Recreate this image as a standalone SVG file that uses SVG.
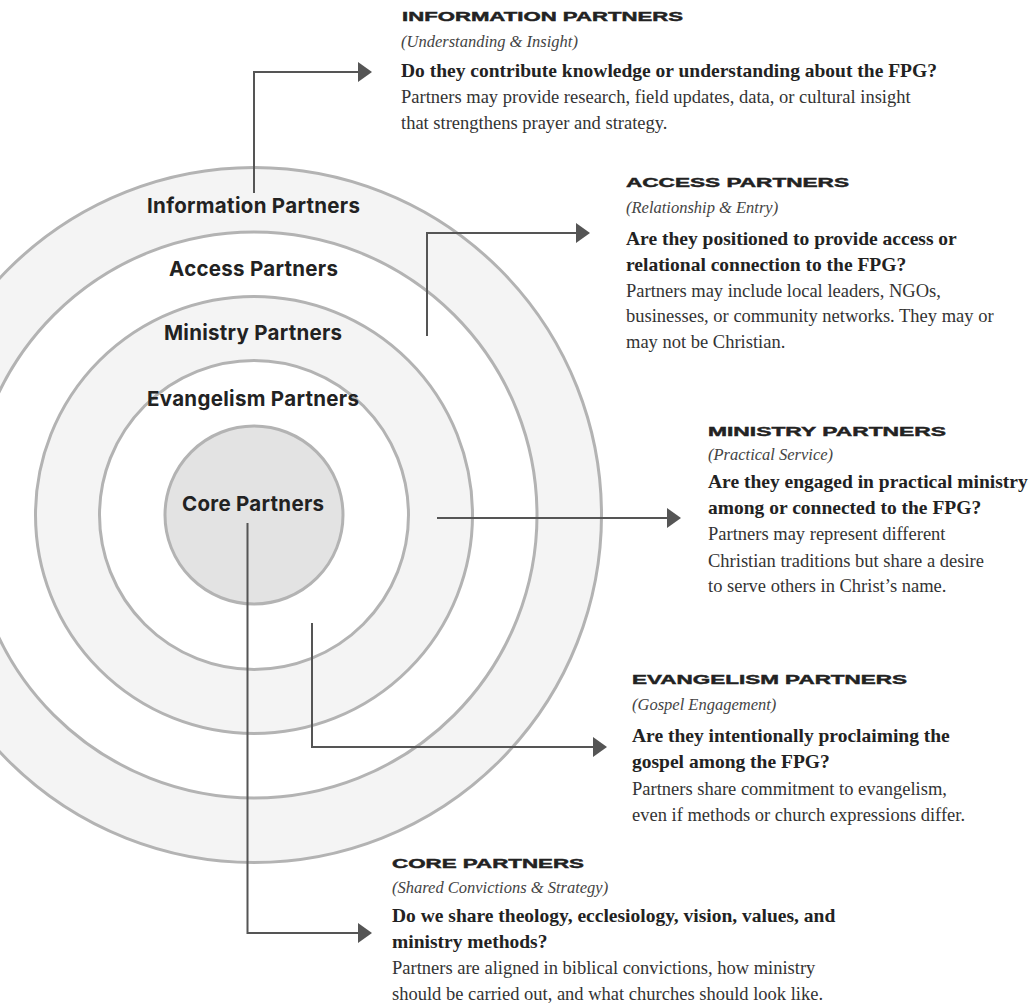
<svg xmlns="http://www.w3.org/2000/svg" width="1033" height="1007" viewBox="0 0 1033 1007">
  <style>
    .ring { stroke:#b3b3b3; stroke-width:3; }
    .lbl { font-family:Inter, "Liberation Sans", sans-serif; font-weight:700; font-size:20.5px; fill:#222; text-anchor:middle; }
    .hd { font-family:"Liberation Sans", Arial, sans-serif; font-weight:700; font-size:13.5px; fill:#222; stroke:#222; stroke-width:0.45px; }
    .it { font-family:"Liberation Serif", "Times New Roman", serif; font-style:italic; font-size:16.5px; fill:#444; }
    .q { font-family:"Liberation Serif", "Times New Roman", serif; font-weight:700; font-size:19.5px; fill:#222; }
    .tx { font-family:"Liberation Serif", "Times New Roman", serif; font-size:18.5px; fill:#333; }
    .conn { fill:none; stroke:#555; stroke-width:2; }
  </style>
  <defs>
    <marker id="arr" viewBox="0 0 14 20" refX="0" refY="10" markerWidth="14" markerHeight="20" markerUnits="userSpaceOnUse" orient="auto">
      <path d="M0,0 L14,10 L0,20 Z" fill="#555"/>
    </marker>
  </defs>
  <rect width="1033" height="1007" fill="#ffffff"/>

  <g id="ring-information">
    <circle class="ring" cx="254" cy="515" r="347.5" fill="#f4f4f4"/>
  </g>
  <g id="ring-access">
    <circle class="ring" cx="254" cy="515" r="283" fill="#ffffff"/>
  </g>
  <g id="ring-ministry">
    <circle class="ring" cx="254" cy="515" r="218.5" fill="#f4f4f4"/>
  </g>
  <g id="ring-evangelism">
    <circle class="ring" cx="254" cy="515" r="154.5" fill="#ffffff"/>
  </g>
  <g id="ring-core">
    <circle class="ring" cx="254" cy="515" r="89" fill="#e3e3e3"/>
  </g>

  <g id="ring-labels">
    <text class="lbl" x="253.5" y="213" textLength="213">Information Partners</text>
    <text class="lbl" x="253.5" y="276" textLength="169">Access Partners</text>
    <text class="lbl" x="253" y="340" textLength="178">Ministry Partners</text>
    <text class="lbl" x="253" y="406" textLength="212">Evangelism Partners</text>
    <text class="lbl" x="253" y="511" textLength="142">Core Partners</text>
  </g>

  <g id="connectors">
    <path class="conn" d="M254,193 V72 H358" marker-end="url(#arr)"/>
    <path class="conn" d="M427,336 V233 H576" marker-end="url(#arr)"/>
    <path class="conn" d="M437,518 H667" marker-end="url(#arr)"/>
    <path class="conn" d="M312,623 V747 H593" marker-end="url(#arr)"/>
    <path class="conn" d="M247.5,523 V933 H358" marker-end="url(#arr)"/>
  </g>

  <g id="desc-information">
    <text class="hd" x="402" y="21" textLength="281" lengthAdjust="spacingAndGlyphs">INFORMATION PARTNERS</text>
    <text class="it" x="401" y="47">(Understanding &amp; Insight)</text>
    <text class="q" x="401" y="77">Do they contribute knowledge or understanding about the FPG?</text>
    <text class="tx" x="401" y="103">Partners may provide research, field updates, data, or cultural insight</text>
    <text class="tx" x="401" y="129">that strengthens prayer and strategy.</text>
  </g>

  <g id="desc-access">
    <text class="hd" x="626" y="187" textLength="223" lengthAdjust="spacingAndGlyphs">ACCESS PARTNERS</text>
    <text class="it" x="626" y="213">(Relationship &amp; Entry)</text>
    <text class="q" x="626" y="245">Are they positioned to provide access or</text>
    <text class="q" x="626" y="271">relational connection to the FPG?</text>
    <text class="tx" x="626" y="297">Partners may include local leaders, NGOs,</text>
    <text class="tx" x="626" y="322">businesses, or community networks. They may or</text>
    <text class="tx" x="626" y="348">may not be Christian.</text>
  </g>

  <g id="desc-ministry">
    <text class="hd" x="708" y="436" textLength="238" lengthAdjust="spacingAndGlyphs">MINISTRY PARTNERS</text>
    <text class="it" x="708" y="460">(Practical Service)</text>
    <text class="q" x="708" y="488">Are they engaged in practical ministry</text>
    <text class="q" x="708" y="514">among or connected to the FPG?</text>
    <text class="tx" x="708" y="540">Partners may represent different</text>
    <text class="tx" x="708" y="567">Christian traditions but share a desire</text>
    <text class="tx" x="708" y="592">to serve others in Christ’s name.</text>
  </g>

  <g id="desc-evangelism">
    <text class="hd" x="632" y="684" textLength="275" lengthAdjust="spacingAndGlyphs">EVANGELISM PARTNERS</text>
    <text class="it" x="632" y="710">(Gospel Engagement)</text>
    <text class="q" x="632" y="742">Are they intentionally proclaiming the</text>
    <text class="q" x="632" y="768">gospel among the FPG?</text>
    <text class="tx" x="632" y="795">Partners share commitment to evangelism,</text>
    <text class="tx" x="632" y="821">even if methods or church expressions differ.</text>
  </g>

  <g id="desc-core">
    <text class="hd" x="392" y="868" textLength="192" lengthAdjust="spacingAndGlyphs">CORE PARTNERS</text>
    <text class="it" x="392" y="893">(Shared Convictions &amp; Strategy)</text>
    <text class="q" x="392" y="922">Do we share theology, ecclesiology, vision, values, and</text>
    <text class="q" x="392" y="948">ministry methods?</text>
    <text class="tx" x="392" y="974">Partners are aligned in biblical convictions, how ministry</text>
    <text class="tx" x="392" y="1000">should be carried out, and what churches should look like.</text>
  </g>
</svg>
